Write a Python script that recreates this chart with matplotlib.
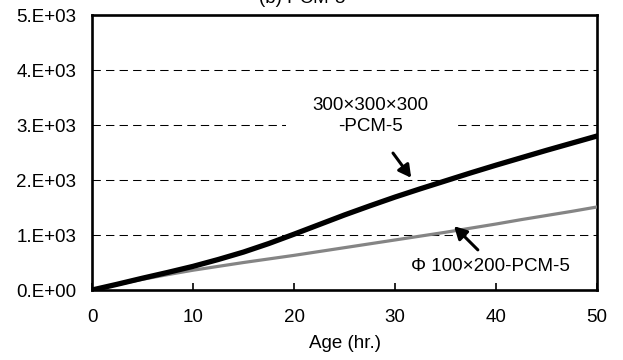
import numpy as np
import matplotlib
matplotlib.use('Agg')
import matplotlib.pyplot as plt
from matplotlib.patches import Rectangle

plt.rcParams['font.family'] = ['Liberation Sans', 'DejaVu Sans']
plt.rcParams['font.size'] = 13.5

# Data
age = [0, 2.5, 5, 7.5, 10, 12.5, 15, 17.5, 20, 22.5, 25, 27.5, 30, 32.5, 35, 37.5, 40, 42.5, 45, 47.5, 50]
cube_300 = [0, 105, 215, 320, 430, 555, 690, 845, 1015, 1190, 1365, 1530, 1690, 1840, 1985, 2130, 2270, 2405, 2540, 2670, 2800]
cyl_100 = [0, 100, 195, 280, 360, 430, 500, 565, 630, 700, 770, 840, 910, 980, 1050, 1125, 1200, 1280, 1355, 1430, 1510]

y_ticks = [0, 1000, 2000, 3000, 4000, 5000]
y_ticklabels = ['0.E+00', '1.E+03', '2.E+03', '3.E+03', '4.E+03', '5.E+03']
x_ticks = [0, 10, 20, 30, 40, 50]

fig = plt.figure(figsize=(6.23, 3.6), dpi=100)
ax = fig.add_axes([0.1477, 0.1944, 0.8106, 0.7639])

# dashed grid
for yv in y_ticks[1:-1]:
    ax.plot([0, 50], [yv, yv], color='black', lw=0.75, ls=(0, (8, 5)), zorder=1)

# white box behind label breaks the 3000 line
ax.add_patch(Rectangle((19.2, 2880), 16.8, 240, facecolor='white', edgecolor='none', zorder=1.5))

ax.plot(age, cyl_100, color='#858585', lw=2.3, zorder=3)
ax.plot(age, cube_300, color='black', lw=3.8, zorder=4)

ax.text(27.6, 3170, '300\u00d7300\u00d7300\n-PCM-5', ha='center', va='center',
        linespacing=1.3, zorder=5)
ax.text(39.4, 425, '\u03a6 100\u00d7200-PCM-5', ha='center', va='center', zorder=5)

arrow_style = dict(arrowstyle='-|>,head_length=0.55,head_width=0.3', color='black', lw=2.2,
                   shrinkA=0, shrinkB=0)
ax.annotate('', xy=(31.6, 2040), xytext=(29.8, 2490), arrowprops=arrow_style, zorder=6)
ax.annotate('', xy=(35.85, 1160), xytext=(38.2, 730), arrowprops=arrow_style, zorder=6)

ax.set_xlim(0, 50)
ax.set_ylim(0, 5000)
ax.set_xticks(x_ticks)
ax.set_yticks(y_ticks)
ax.set_yticklabels(y_ticklabels)
ax.tick_params(axis='x', direction='in', length=5, width=1.2, pad=14)
ax.tick_params(axis='y', direction='in', length=0, pad=11.5)
for sp in ax.spines.values():
    sp.set_linewidth(1.9)
ax.set_xlabel('Age (hr.)', labelpad=6)

fig.text(302 / 623, 1 - 7 / 360, '(b) PCM-5', ha='center', va='bottom')

fig.savefig('out.png', dpi=100)
